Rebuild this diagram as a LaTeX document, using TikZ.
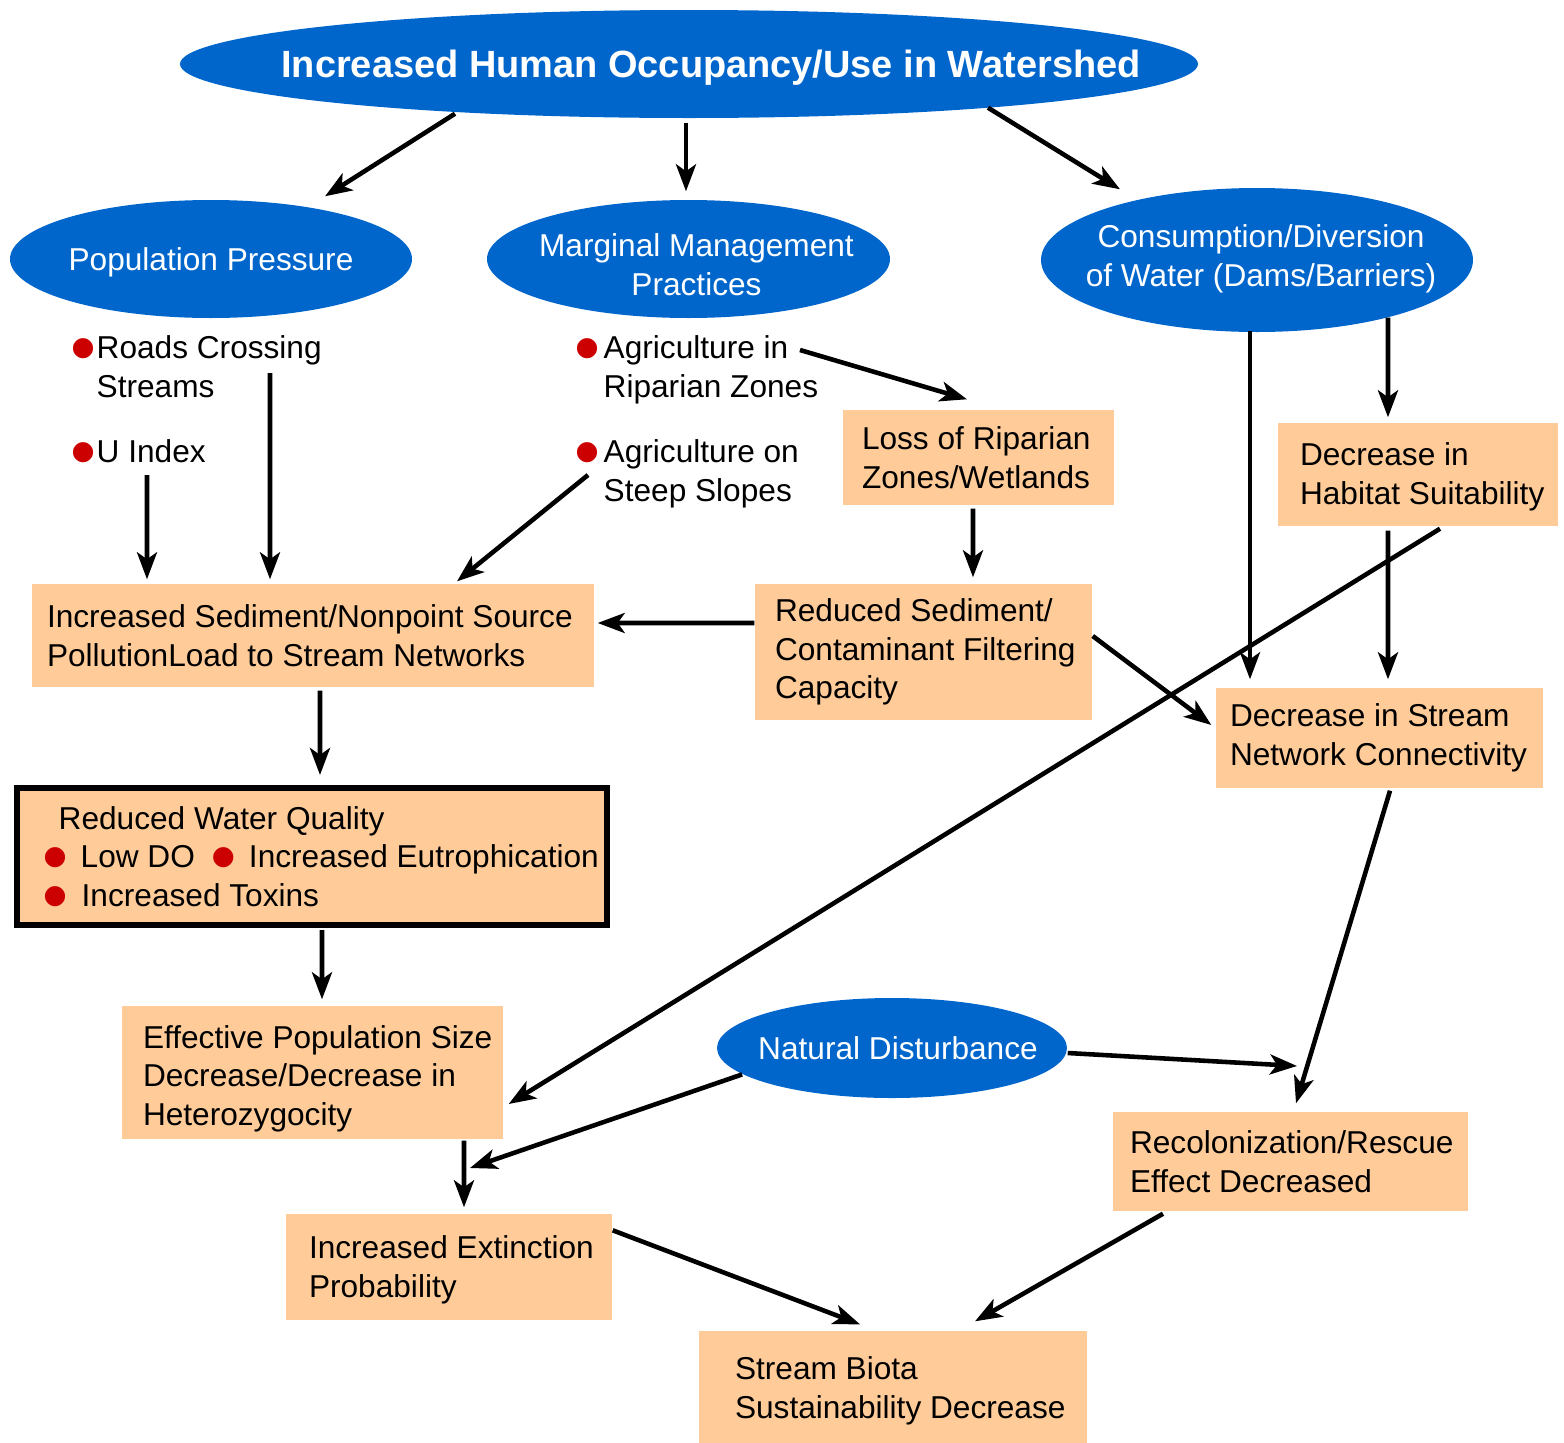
\documentclass[tikz,border=0pt]{standalone}
\usepackage{fontspec}
\setmainfont{Liberation Sans}
\newfontfamily\symfont{DejaVu Sans}
\usetikzlibrary{shapes.geometric,arrows.meta}
\definecolor{blu}{HTML}{0066CC}
\definecolor{peach}{HTML}{FFCC99}
\definecolor{dotred}{HTML}{CC0000}
\newcommand{\reddot}{\raisebox{0.9pt}{\symfont\fontsize{7.5}{7.5}\selectfont\textcolor{dotred}{●}}}
\begin{document}
\begin{tikzpicture}[
    blob/.style={ellipse, fill=blu, inner sep=0pt},
    blobtext/.style={text=white, align=center, inner sep=0pt, font=\fontsize{9}{11}\selectfont},
    box/.style={rectangle, fill=peach, inner sep=0pt},
    boxtext/.style={anchor=west, align=left, inner sep=0pt, font=\fontsize{9}{11}\selectfont},
    note/.style={anchor=west, align=left, inner sep=0pt, font=\fontsize{9}{11}\selectfont},
    arr/.style={-{Stealth[length=2.7mm,width=2mm,inset=0.7mm]}, line width=1.3pt}
]
\useasboundingbox (0,0) rectangle (15.64,-14.43);

% ellipses
\node[blob, minimum width=10.18cm, minimum height=1.08cm] (top) at (6.89,-0.64) {};
\node[blobtext, font=\bfseries\fontsize{10.8}{13}\selectfont] (top-t) at ([xshift=0.22cm,yshift=-0.04cm]top) {Increased Human Occupancy/Use in Watershed};
\node[blob, minimum width=4.02cm, minimum height=1.18cm] (pop) at (2.11,-2.59) {};
\node[blobtext] (pop-t) at ([yshift=-0.03cm]pop) {Population Pressure};
\node[blob, minimum width=4.03cm, minimum height=1.18cm] (marg) at (6.885,-2.59) {};
\node[blobtext] (marg-t) at ([xshift=0.08cm,yshift=-0.06cm]marg) {Marginal Management\\Practices};
\node[blob, minimum width=4.32cm, minimum height=1.44cm] (cons) at (12.57,-2.60) {};
\node[blobtext] (cons-t) at ([xshift=0.04cm,yshift=0.01cm]cons) {Consumption/Diversion\\of Water (Dams/Barriers)};
\node[blob, minimum width=3.50cm, minimum height=1.00cm] (nat) at (8.92,-10.48) {};
\node[blobtext] (nat-t) at ([xshift=0.06cm]nat) {Natural Disturbance};

% bullet notes
\node[note] (roads) at (0.96,-3.67) {\llap{\reddot\hspace{0.02cm}}Roads Crossing\\Streams};
\node[note] (uidx) at (0.96,-4.51) {\llap{\reddot\hspace{0.02cm}}U Index};
\node[note] (agri) at (6.03,-3.70) {\llap{\reddot\hspace{0.05cm}}Agriculture in\\Riparian Zones};
\node[note] (steep) at (6.03,-4.74) {\llap{\reddot\hspace{0.05cm}}Agriculture on\\Steep Slopes};

% boxes
\node[box, minimum width=2.71cm, minimum height=0.95cm] (loss) at (9.785,-4.575) {};
\node[boxtext] (loss-t) at ([xshift=0.19cm]loss.west) {Loss of Riparian\\Zones/Wetlands};
\node[box, minimum width=2.80cm, minimum height=1.03cm] (habit) at (14.18,-4.745) {};
\node[boxtext] (habit-t) at ([xshift=0.22cm,yshift=-0.02cm]habit.west) {Decrease in\\Habitat Suitability};
\node[box, minimum width=5.62cm, minimum height=1.03cm] (sed) at (3.13,-6.355) {};
\node[boxtext] (sed-t) at ([xshift=0.15cm]sed.west) {Increased Sediment/Nonpoint Source\\PollutionLoad to Stream Networks};
\node[box, minimum width=3.37cm, minimum height=1.36cm] (filt) at (9.235,-6.52) {};
\node[boxtext] (filt-t) at ([xshift=0.20cm]filt.west) {Reduced Sediment/\\Contaminant Filtering\\Capacity};
\node[box, minimum width=3.27cm, minimum height=1.00cm] (conn) at (13.795,-7.38) {};
\node[boxtext] (conn-t) at ([xshift=0.14cm]conn.west) {Decrease in Stream\\Network Connectivity};
\node[box, draw=black, line width=0.06cm, minimum width=5.90cm, minimum height=1.37cm] (wq) at (3.12,-8.565) {};
\node[boxtext] (wq-t) at ([xshift=0.29cm]wq.west) {\hspace*{0.15cm}Reduced Water Quality\\
    \reddot\hspace{0.14cm}Low DO\hspace{0.17cm}\reddot\hspace{0.14cm}Increased Eutrophication\\
    \reddot\hspace{0.15cm}Increased Toxins};
\node[box, minimum width=3.81cm, minimum height=1.33cm] (eff) at (3.125,-10.725) {};
\node[boxtext] (eff-t) at ([xshift=0.21cm,yshift=-0.06cm]eff.west) {Effective Population Size\\Decrease/Decrease in\\Heterozygocity};
\node[box, minimum width=3.55cm, minimum height=0.99cm] (recol) at (12.905,-11.615) {};
\node[boxtext] (recol-t) at ([xshift=0.17cm]recol.west) {Recolonization/Rescue\\Effect Decreased};
\node[box, minimum width=3.26cm, minimum height=1.06cm] (ext) at (4.49,-12.67) {};
\node[boxtext] (ext-t) at ([xshift=0.23cm,yshift=-0.03cm]ext.west) {Increased Extinction\\Probability};
\node[box, minimum width=3.88cm, minimum height=1.12cm] (biota) at (8.93,-13.87) {};
\node[boxtext] (biota-t) at ([xshift=0.36cm,yshift=-0.04cm]biota.west) {Stream Biota\\Sustainability Decrease};

% free ends of the two joining arrows
\coordinate (join1) at (4.70,-11.68);
\coordinate (join2) at (12.97,-10.66);

% connectors
\draw[arr] ([xshift=-2.34cm,yshift=0.05cm]top.south) -- ([xshift=1.14cm,yshift=0.03cm]pop.north);
\draw[arr] ([xshift=-0.03cm,yshift=-0.04cm]top.south) -- ([xshift=-0.025cm,yshift=0.08cm]marg.north);
\draw[arr] ([xshift=2.99cm,yshift=0.11cm]top.south) -- ([xshift=-1.37cm,yshift=-0.02cm]cons.north);
\draw[arr] ([xshift=1.74cm,yshift=-0.06cm]roads.west) -- ([xshift=-0.43cm,yshift=0.04cm]sed.north);
\draw[arr] ([xshift=0.51cm,yshift=-0.24cm]uidx.west) -- ([xshift=-1.66cm,yshift=0.04cm]sed.north);
\draw[arr] ([xshift=-0.15cm,yshift=-0.01cm]steep.west) -- ([xshift=1.44cm,yshift=0.02cm]sed.north);
\draw[arr] ([xshift=1.97cm,yshift=0.20cm]agri.west) -- ([xshift=-0.115cm,yshift=0.10cm]loss.north);
\draw[arr] ([xshift=-0.055cm,yshift=-0.03cm]loss.south) -- ([xshift=0.495cm,yshift=0.06cm]filt.north);
\draw[arr] ([yshift=0.29cm]filt.west) -- ([xshift=0.03cm,yshift=0.125cm]sed.east);
\draw[arr] ([yshift=0.16cm]filt.east) -- ([xshift=-0.04cm,yshift=0.13cm]conn.west);
\draw[arr] ([xshift=-0.07cm,yshift=0.02cm]cons.south) -- ([xshift=-1.295cm,yshift=0.08cm]conn.north);
\draw[arr] ([xshift=1.31cm,yshift=0.15cm]cons.south) -- ([xshift=-0.30cm,yshift=0.05cm]habit.north);
\draw[arr] ([xshift=-0.30cm,yshift=-0.04cm]habit.south) -- ([xshift=0.085cm,yshift=0.08cm]conn.north);
\draw[arr] ([xshift=0.22cm,yshift=-0.02cm]habit.south) -- ([xshift=0.05cm,yshift=-0.315cm]eff.east);
\draw[arr] ([xshift=0.07cm,yshift=-0.03cm]sed.south) -- ([xshift=0.08cm,yshift=0.10cm]wq.north);
\draw[arr] ([xshift=0.10cm,yshift=-0.02cm]wq.south) -- ([xshift=0.095cm,yshift=0.06cm]eff.north);
\draw[arr] ([xshift=1.515cm,yshift=-0.01cm]eff.south) -- ([xshift=0.15cm,yshift=0.06cm]ext.north);
\draw[arr] (nat.190) -- (join1);
\draw[arr] ([yshift=-0.05cm]nat.east) -- (join2);
\draw[arr] ([xshift=0.105cm,yshift=-0.02cm]conn.south) -- ([xshift=0.055cm,yshift=0.08cm]recol.north);
\draw[arr] ([yshift=-0.17cm]ext.north east) -- ([xshift=-0.33cm,yshift=0.06cm]biota.north);
\draw[arr] ([xshift=-1.275cm,yshift=-0.02cm]recol.south) -- ([xshift=0.82cm,yshift=0.09cm]biota.north);
\end{tikzpicture}
\end{document}
